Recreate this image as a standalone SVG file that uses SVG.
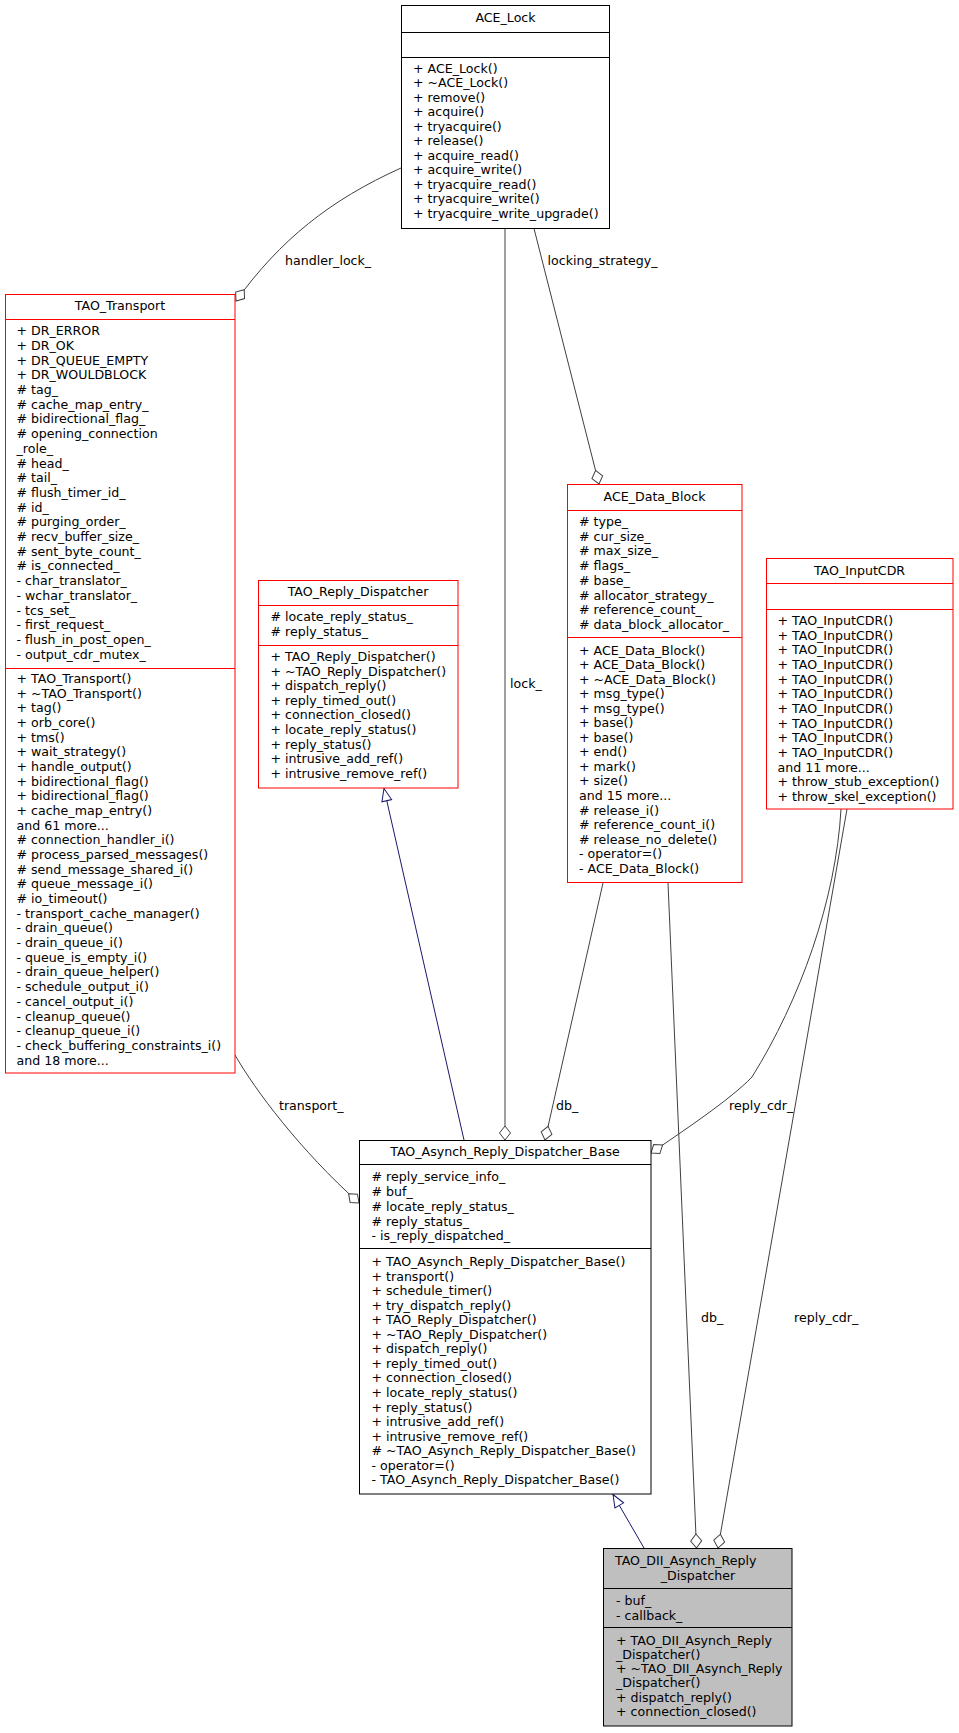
<svg xmlns="http://www.w3.org/2000/svg" width="959" height="1733" viewBox="0 0 959 1733">
<style>
text{font-family:"DejaVu Sans","Liberation Sans",sans-serif;font-size:12.6px;fill:#000}
.c{text-anchor:middle}
.box{fill:#fff;stroke:#000;stroke-width:1}
.red{stroke:#ff0000}
.grey{fill:#bfbfbf}
.div{stroke:#000;stroke-width:1}
.rdiv{stroke:#ff0000;stroke-width:1}
.agg{fill:none;stroke:#404040;stroke-width:1}
.inh{fill:none;stroke:#191970;stroke-width:1}
</style>
<defs>
<marker id="dia" markerUnits="userSpaceOnUse" markerWidth="16" markerHeight="12" refX="14" refY="0" orient="auto" style="overflow:visible">
<path d="M0,0 L7,-5.5 L14,0 L7,5.5 Z" fill="#fff" stroke="#404040"/>
</marker>
<marker id="tri" markerUnits="userSpaceOnUse" markerWidth="14" markerHeight="12" refX="12.5" refY="0" orient="auto" style="overflow:visible">
<path d="M0,-5 L12.5,0 L0,5 Z" fill="#fff" stroke="#191970"/>
</marker>
</defs>
<rect width="959" height="1733" fill="#fff"/>
<g id="connectors">
<path class="agg" d="M401,168 C330,200 280,240 236,301" marker-end="url(#dia)"/>
<text x="285" y="264.5">handler_lock_</text>
<path class="agg" d="M505,228.5 L505,1140" marker-end="url(#dia)"/>
<text x="510" y="687.5">lock_</text>
<path class="agg" d="M534,228.5 L599,484" marker-end="url(#dia)"/>
<text x="547.5" y="264.5">locking_strategy_</text>
<path class="agg" d="M235,1055 C255,1090 300,1150 359,1203" marker-end="url(#dia)"/>
<text x="279" y="1110">transport_</text>
<path class="inh" d="M464,1140 L384,788.5" marker-end="url(#tri)"/>
<path class="agg" d="M603,883 L545,1140" marker-end="url(#dia)"/>
<text x="556" y="1110">db_</text>
<path class="agg" d="M841,809 C836,900 800,1000 752,1077 C730,1100 680,1133 651,1153" marker-end="url(#dia)"/>
<text x="729" y="1109.5">reply_cdr_</text>
<path class="agg" d="M668,883 L696.5,1548" marker-end="url(#dia)"/>
<text x="701" y="1322">db_</text>
<path class="agg" d="M847,809 L718,1548" marker-end="url(#dia)"/>
<text x="794" y="1322">reply_cdr_</text>
<path class="inh" d="M644,1548 L613,1494.5" marker-end="url(#tri)"/>
</g>
<g id="ACE_Lock">
<rect class="box" x="401.5" y="5.5" width="208" height="223"/>
<line class="div" x1="401.5" y1="32.5" x2="609.5" y2="32.5"/>
<line class="div" x1="401.5" y1="57.5" x2="609.5" y2="57.5"/>
<text class="c" x="505.5" y="22">ACE_Lock</text>
<text x="413"><tspan x="413" y="72.5">+ ACE_Lock()</tspan><tspan x="413" dy="14.55">+ ~ACE_Lock()</tspan><tspan x="413" dy="14.55">+ remove()</tspan><tspan x="413" dy="14.55">+ acquire()</tspan><tspan x="413" dy="14.55">+ tryacquire()</tspan><tspan x="413" dy="14.55">+ release()</tspan><tspan x="413" dy="14.55">+ acquire_read()</tspan><tspan x="413" dy="14.55">+ acquire_write()</tspan><tspan x="413" dy="14.55">+ tryacquire_read()</tspan><tspan x="413" dy="14.55">+ tryacquire_write()</tspan><tspan x="413" dy="14.55">+ tryacquire_write_upgrade()</tspan></text>
</g>
<g id="TAO_Transport">
<rect class="box red" x="5.5" y="294.5" width="229.5" height="778.5"/>
<line class="rdiv" x1="5.5" y1="319.5" x2="235" y2="319.5"/>
<line class="rdiv" x1="5.5" y1="668.5" x2="235" y2="668.5"/>
<text class="c" x="120" y="310">TAO_Transport</text>
<text x="16.5"><tspan x="16.5" y="335.2">+ DR_ERROR</tspan><tspan x="16.5" dy="14.7">+ DR_OK</tspan><tspan x="16.5" dy="14.7">+ DR_QUEUE_EMPTY</tspan><tspan x="16.5" dy="14.7">+ DR_WOULDBLOCK</tspan><tspan x="16.5" dy="14.7"># tag_</tspan><tspan x="16.5" dy="14.7"># cache_map_entry_</tspan><tspan x="16.5" dy="14.7"># bidirectional_flag_</tspan><tspan x="16.5" dy="14.7"># opening_connection</tspan><tspan x="16.5" dy="14.7">_role_</tspan><tspan x="16.5" dy="14.7"># head_</tspan><tspan x="16.5" dy="14.7"># tail_</tspan><tspan x="16.5" dy="14.7"># flush_timer_id_</tspan><tspan x="16.5" dy="14.7"># id_</tspan><tspan x="16.5" dy="14.7"># purging_order_</tspan><tspan x="16.5" dy="14.7"># recv_buffer_size_</tspan><tspan x="16.5" dy="14.7"># sent_byte_count_</tspan><tspan x="16.5" dy="14.7"># is_connected_</tspan><tspan x="16.5" dy="14.7">- char_translator_</tspan><tspan x="16.5" dy="14.7">- wchar_translator_</tspan><tspan x="16.5" dy="14.7">- tcs_set_</tspan><tspan x="16.5" dy="14.7">- first_request_</tspan><tspan x="16.5" dy="14.7">- flush_in_post_open_</tspan><tspan x="16.5" dy="14.7">- output_cdr_mutex_</tspan></text>
<text x="16.5"><tspan x="16.5" y="682.9">+ TAO_Transport()</tspan><tspan x="16.5" dy="14.68">+ ~TAO_Transport()</tspan><tspan x="16.5" dy="14.68">+ tag()</tspan><tspan x="16.5" dy="14.68">+ orb_core()</tspan><tspan x="16.5" dy="14.68">+ tms()</tspan><tspan x="16.5" dy="14.68">+ wait_strategy()</tspan><tspan x="16.5" dy="14.68">+ handle_output()</tspan><tspan x="16.5" dy="14.68">+ bidirectional_flag()</tspan><tspan x="16.5" dy="14.68">+ bidirectional_flag()</tspan><tspan x="16.5" dy="14.68">+ cache_map_entry()</tspan><tspan x="16.5" dy="14.68">and 61 more...</tspan><tspan x="16.5" dy="14.68"># connection_handler_i()</tspan><tspan x="16.5" dy="14.68"># process_parsed_messages()</tspan><tspan x="16.5" dy="14.68"># send_message_shared_i()</tspan><tspan x="16.5" dy="14.68"># queue_message_i()</tspan><tspan x="16.5" dy="14.68"># io_timeout()</tspan><tspan x="16.5" dy="14.68">- transport_cache_manager()</tspan><tspan x="16.5" dy="14.68">- drain_queue()</tspan><tspan x="16.5" dy="14.68">- drain_queue_i()</tspan><tspan x="16.5" dy="14.68">- queue_is_empty_i()</tspan><tspan x="16.5" dy="14.68">- drain_queue_helper()</tspan><tspan x="16.5" dy="14.68">- schedule_output_i()</tspan><tspan x="16.5" dy="14.68">- cancel_output_i()</tspan><tspan x="16.5" dy="14.68">- cleanup_queue()</tspan><tspan x="16.5" dy="14.68">- cleanup_queue_i()</tspan><tspan x="16.5" dy="14.68">- check_buffering_constraints_i()</tspan><tspan x="16.5" dy="14.68">and 18 more...</tspan></text>
</g>
<g id="TAO_Reply_Dispatcher">
<rect class="box red" x="258.5" y="580.5" width="199.5" height="207.5"/>
<line class="rdiv" x1="258.5" y1="605.5" x2="458" y2="605.5"/>
<line class="rdiv" x1="258.5" y1="645.5" x2="458" y2="645.5"/>
<text class="c" x="358" y="596">TAO_Reply_Dispatcher</text>
<text x="270.5"><tspan x="270.5" y="621">#&#160;locate_reply_status_</tspan><tspan x="270.5" dy="14.6"># reply_status_</tspan></text>
<text x="270.5"><tspan x="270.5" y="661">+ TAO_Reply_Dispatcher()</tspan><tspan x="270.5" dy="14.6">+ ~TAO_Reply_Dispatcher()</tspan><tspan x="270.5" dy="14.6">+ dispatch_reply()</tspan><tspan x="270.5" dy="14.6">+ reply_timed_out()</tspan><tspan x="270.5" dy="14.6">+ connection_closed()</tspan><tspan x="270.5" dy="14.6">+ locate_reply_status()</tspan><tspan x="270.5" dy="14.6">+ reply_status()</tspan><tspan x="270.5" dy="14.6">+ intrusive_add_ref()</tspan><tspan x="270.5" dy="14.6">+ intrusive_remove_ref()</tspan></text>
</g>
<g id="ACE_Data_Block">
<rect class="box red" x="567.5" y="484.5" width="174.5" height="398"/>
<line class="rdiv" x1="567.5" y1="510.5" x2="742" y2="510.5"/>
<line class="rdiv" x1="567.5" y1="637.5" x2="742" y2="637.5"/>
<text class="c" x="654.5" y="501">ACE_Data_Block</text>
<text x="579"><tspan x="579" y="526">#&#160;type_</tspan><tspan x="579" dy="14.7"># cur_size_</tspan><tspan x="579" dy="14.7"># max_size_</tspan><tspan x="579" dy="14.7"># flags_</tspan><tspan x="579" dy="14.7"># base_</tspan><tspan x="579" dy="14.7"># allocator_strategy_</tspan><tspan x="579" dy="14.7"># reference_count_</tspan><tspan x="579" dy="14.7"># data_block_allocator_</tspan></text>
<text x="579"><tspan x="579" y="654.5">+ ACE_Data_Block()</tspan><tspan x="579" dy="14.55">+ ACE_Data_Block()</tspan><tspan x="579" dy="14.55">+ ~ACE_Data_Block()</tspan><tspan x="579" dy="14.55">+ msg_type()</tspan><tspan x="579" dy="14.55">+ msg_type()</tspan><tspan x="579" dy="14.55">+ base()</tspan><tspan x="579" dy="14.55">+ base()</tspan><tspan x="579" dy="14.55">+ end()</tspan><tspan x="579" dy="14.55">+ mark()</tspan><tspan x="579" dy="14.55">+ size()</tspan><tspan x="579" dy="14.55">and 15 more...</tspan><tspan x="579" dy="14.55"># release_i()</tspan><tspan x="579" dy="14.55"># reference_count_i()</tspan><tspan x="579" dy="14.55"># release_no_delete()</tspan><tspan x="579" dy="14.55">- operator=()</tspan><tspan x="579" dy="14.55">- ACE_Data_Block()</tspan></text>
</g>
<g id="TAO_InputCDR">
<rect class="box red" x="766.5" y="558.5" width="186.5" height="250.5"/>
<line class="rdiv" x1="766.5" y1="583.5" x2="953" y2="583.5"/>
<line class="rdiv" x1="766.5" y1="609.5" x2="953" y2="609.5"/>
<text class="c" x="859.5" y="574.5">TAO_InputCDR</text>
<text x="777.5"><tspan x="777.5" y="625">+ TAO_InputCDR()</tspan><tspan x="777.5" dy="14.67">+ TAO_InputCDR()</tspan><tspan x="777.5" dy="14.67">+ TAO_InputCDR()</tspan><tspan x="777.5" dy="14.67">+ TAO_InputCDR()</tspan><tspan x="777.5" dy="14.67">+ TAO_InputCDR()</tspan><tspan x="777.5" dy="14.67">+ TAO_InputCDR()</tspan><tspan x="777.5" dy="14.67">+ TAO_InputCDR()</tspan><tspan x="777.5" dy="14.67">+ TAO_InputCDR()</tspan><tspan x="777.5" dy="14.67">+ TAO_InputCDR()</tspan><tspan x="777.5" dy="14.67">+ TAO_InputCDR()</tspan><tspan x="777.5" dy="14.67">and 11 more...</tspan><tspan x="777.5" dy="14.67">+ throw_stub_exception()</tspan><tspan x="777.5" dy="14.67">+ throw_skel_exception()</tspan></text>
</g>
<g id="TAO_Asynch_Reply_Dispatcher_Base">
<rect class="box" x="359.5" y="1140.5" width="291.5" height="353.5"/>
<line class="div" x1="359.5" y1="1164.5" x2="651" y2="1164.5"/>
<line class="div" x1="359.5" y1="1248.5" x2="651" y2="1248.5"/>
<text class="c" x="505" y="1156">TAO_Asynch_Reply_Dispatcher_Base</text>
<text x="371.5"><tspan x="371.5" y="1181">#&#160;reply_service_info_</tspan><tspan x="371.5" dy="14.85"># buf_</tspan><tspan x="371.5" dy="14.85"># locate_reply_status_</tspan><tspan x="371.5" dy="14.85"># reply_status_</tspan><tspan x="371.5" dy="14.85">- is_reply_dispatched_</tspan></text>
<text x="371.5"><tspan x="371.5" y="1266">+ TAO_Asynch_Reply_Dispatcher_Base()</tspan><tspan x="371.5" dy="14.55">+ transport()</tspan><tspan x="371.5" dy="14.55">+ schedule_timer()</tspan><tspan x="371.5" dy="14.55">+ try_dispatch_reply()</tspan><tspan x="371.5" dy="14.55">+ TAO_Reply_Dispatcher()</tspan><tspan x="371.5" dy="14.55">+ ~TAO_Reply_Dispatcher()</tspan><tspan x="371.5" dy="14.55">+ dispatch_reply()</tspan><tspan x="371.5" dy="14.55">+ reply_timed_out()</tspan><tspan x="371.5" dy="14.55">+ connection_closed()</tspan><tspan x="371.5" dy="14.55">+ locate_reply_status()</tspan><tspan x="371.5" dy="14.55">+ reply_status()</tspan><tspan x="371.5" dy="14.55">+ intrusive_add_ref()</tspan><tspan x="371.5" dy="14.55">+ intrusive_remove_ref()</tspan><tspan x="371.5" dy="14.55"># ~TAO_Asynch_Reply_Dispatcher_Base()</tspan><tspan x="371.5" dy="14.55">- operator=()</tspan><tspan x="371.5" dy="14.55">- TAO_Asynch_Reply_Dispatcher_Base()</tspan></text>
</g>
<g id="TAO_DII_Asynch_Reply_Dispatcher">
<rect class="box grey" x="603.5" y="1548.5" width="188.5" height="177.5"/>
<line class="div" x1="603.5" y1="1588.5" x2="792" y2="1588.5"/>
<line class="div" x1="603.5" y1="1627.5" x2="792" y2="1627.5"/>
<text x="615" y="1564.5">TAO_DII_Asynch_Reply</text>
<text class="c" x="698" y="1579.5">_Dispatcher</text>
<text x="616"><tspan x="616" y="1604.5">- buf_</tspan><tspan x="616" dy="15">- callback_</tspan></text>
<text x="616"><tspan x="616" y="1644.5">+ TAO_DII_Asynch_Reply</tspan><tspan x="616" dy="14.3">_Dispatcher()</tspan><tspan x="616" dy="14.3">+ ~TAO_DII_Asynch_Reply</tspan><tspan x="616" dy="14.3">_Dispatcher()</tspan><tspan x="616" dy="14.3">+ dispatch_reply()</tspan><tspan x="616" dy="14.3">+ connection_closed()</tspan></text>
</g>
</svg>
